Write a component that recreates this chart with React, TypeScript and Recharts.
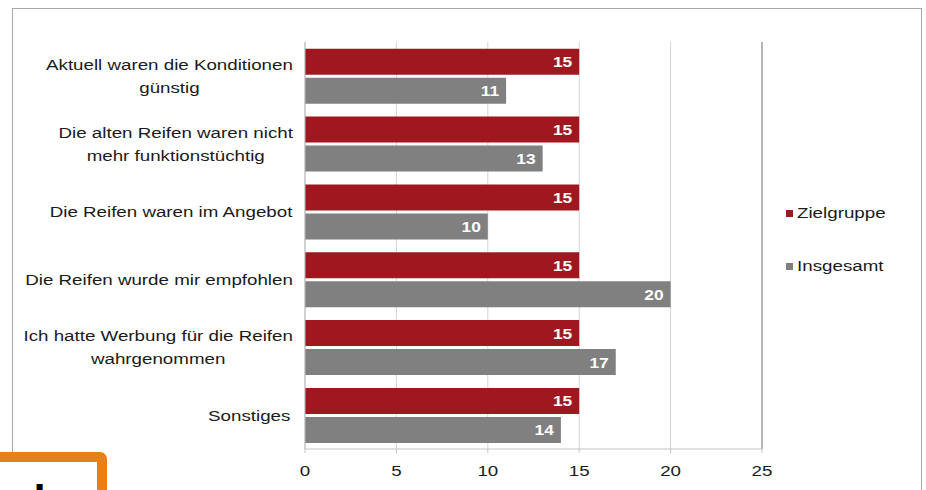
import React from 'react';
import { BarChart, Bar, XAxis, YAxis, CartesianGrid, LabelList, ReferenceLine } from 'recharts';

const categories = [
  'Aktuell waren die Konditionen\ngünstig',
  'Die alten Reifen waren nicht\nmehr funktionstüchtig',
  'Die Reifen waren im Angebot',
  'Die Reifen wurde mir empfohlen',
  'Ich hatte Werbung für die Reifen\nwahrgenommen',
  'Sonstiges ',
];
const zielgruppe = [15, 15, 15, 15, 15, 15];
const insgesamt = [11, 13, 10, 20, 17, 14];
const xTicks = [0, 5, 10, 15, 20, 25];

const data = categories.map((name, i) => ({
  name,
  Zielgruppe: zielgruppe[i],
  Insgesamt: insgesamt[i],
}));

const FONT = '"Liberation Sans", Arial, sans-serif';
const FS = 15.5;
const SX = 1.21; // the reference text is a bit wider than Arial
const RED = '#A0181F';
const GREY = '#808080';
const TEXT = '#1a1a1a';

let ctx: CanvasRenderingContext2D | null = null;
const measure = (s: string) => {
  if (!ctx) ctx = document.createElement('canvas').getContext('2d');
  if (!ctx) return s.length * 7;
  ctx.font = `${FS}px ${FONT}`;
  return ctx.measureText(s).width * SX;
};

const CategoryTick = (props: any) => {
  const { y, payload } = props;
  const lines: string[] = String(payload.value).split('\n');
  const w = Math.max(...lines.map(measure));
  const cx = 293 - w / 2;
  const startY = y - ((lines.length - 1) * 23) / 2;
  return (
    <g transform={`translate(${cx},${startY}) scale(${SX},1)`}>
      <text textAnchor="middle" fontSize={FS} fontFamily={FONT} fill={TEXT}>
        {lines.map((l, i) => (
          <tspan key={i} x={0} y={i * 23} dy={5.5}>
            {l}
          </tspan>
        ))}
      </text>
    </g>
  );
};

const NumberTick = (props: any) => {
  const { x, y, payload } = props;
  return (
    <g transform={`translate(${x},${y + 21}) scale(${SX},1)`}>
      <text textAnchor="middle" fontSize={FS} fontFamily={FONT} fill={TEXT}>
        {payload.value}
      </text>
    </g>
  );
};

const BarValue = (props: any) => {
  const { x, y, width, height, value } = props;
  return (
    <g transform={`translate(${x + width - 7},${y + height / 2 + 5.5}) scale(1.12,1)`}>
      <text textAnchor="end" fontSize={FS} fontWeight="bold" fontFamily={FONT} fill="#fff">
        {value}
      </text>
    </g>
  );
};

const Legend = () => (
  <div style={{ position: 'absolute', left: 786, top: 203, fontFamily: FONT, fontSize: FS, color: TEXT }}>
    {[
      ['Zielgruppe', RED],
      ['Insgesamt', GREY],
    ].map(([label, color], i) => (
      <div key={label} style={{ display: 'flex', alignItems: 'center', height: 20, marginBottom: i === 0 ? 33 : 0 }}>
        <span style={{ width: 7, height: 7, background: color, marginRight: 4, display: 'inline-block' }} />
        <span style={{ display: 'inline-block', transform: `scaleX(${SX})`, transformOrigin: 'left center' }}>{label}</span>
      </div>
    ))}
  </div>
);

export default function App() {
  return (
    <div style={{ position: 'absolute', left: 0, top: 0, width: 926, height: 490, background: '#fff', overflow: 'hidden' }}>
      <div
        style={{
          position: 'absolute',
          left: 12,
          top: 8,
          width: 910,
          height: 500,
          border: '1px solid #a8a8a8',
          boxSizing: 'border-box',
        }}
      />
      <div style={{ position: 'absolute', left: 0, top: 0 }}>
        <BarChart
          width={926}
          height={490}
          data={data}
          layout="vertical"
          margin={{ top: 42, right: 164, bottom: 0, left: 0 }}
          barCategoryGap="10%"
          barGap={3}
        >
          <CartesianGrid horizontal={false} stroke="#d4d4d4" />
          <XAxis
            type="number"
            domain={[0, 25]}
            ticks={xTicks}
            interval={0}
            height={41}
            axisLine={{ stroke: '#c4c4c4' }}
            tickLine={{ stroke: '#c4c4c4' }}
            tickSize={4}
            tick={<NumberTick />}
          />
          <XAxis
            xAxisId="top"
            orientation="top"
            type="number"
            domain={[0, 25]}
            height={0}
            tick={false}
            tickLine={false}
            axisLine={{ stroke: '#c4c4c4' }}
          />
          <YAxis
            type="category"
            dataKey="name"
            width={305}
            axisLine={{ stroke: '#b8b8b8' }}
            tickLine={false}
            tick={<CategoryTick />}
            interval={0}
          />
          <ReferenceLine x={25} stroke="#a4a4a4" strokeWidth={1.5} />
          <Bar dataKey="Zielgruppe" fill={RED} isAnimationActive={false}>
            <LabelList dataKey="Zielgruppe" content={<BarValue />} />
          </Bar>
          <Bar dataKey="Insgesamt" fill={GREY} isAnimationActive={false}>
            <LabelList dataKey="Insgesamt" content={<BarValue />} />
          </Bar>
        </BarChart>
      </div>
      <Legend />
      <div
        style={{
          position: 'absolute',
          left: -12,
          top: 452,
          width: 119,
          height: 60,
          border: '10px solid #E8801A',
          borderRadius: 7,
          boxSizing: 'border-box',
          background: '#fff',
          overflow: 'hidden',
        }}
      >
        <div
          style={{
            position: 'absolute',
            left: 11,
            top: 17,
            fontFamily: FONT,
            fontSize: 44,
            fontWeight: 'bold',
            color: '#000',
            lineHeight: '44px',
            whiteSpace: 'nowrap',
          }}
        >
          als
        </div>
      </div>
    </div>
  );
}
